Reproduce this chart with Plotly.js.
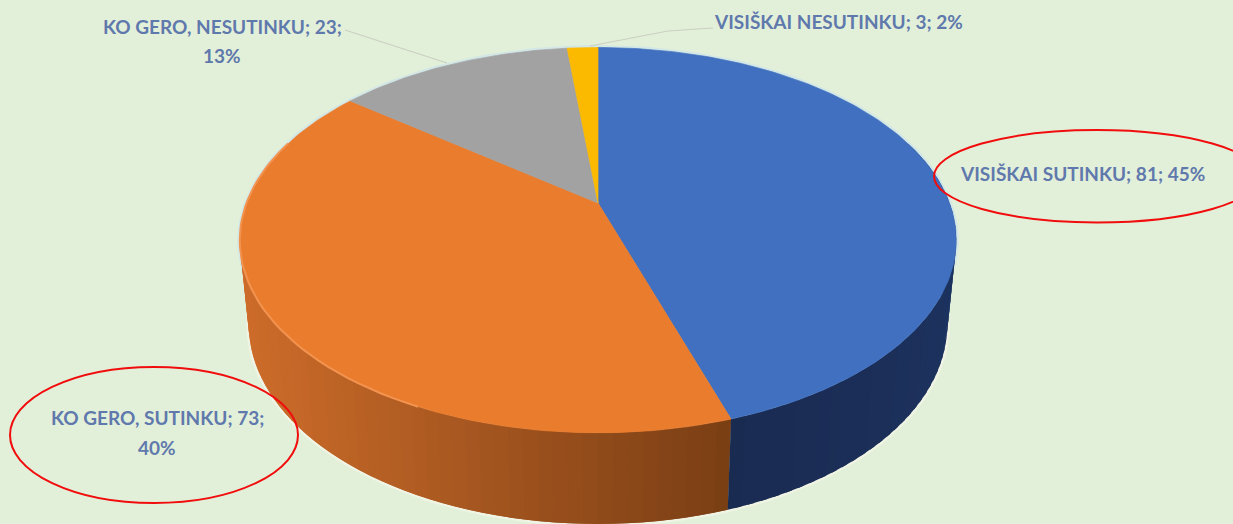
<!DOCTYPE html>
<html><head><meta charset="utf-8">
<script src="https://cdn.plot.ly/plotly-3.0.1.min.js"></script>
<style>html,body{margin:0;padding:0;background:#e3f0d9;overflow:hidden}#c{width:1233px;height:524px}</style>
</head><body><div id="c"></div>
<script>
const categories = ["VISIŠKAI SUTINKU", "KO GERO, SUTINKU", "KO GERO, NESUTINKU", "VISIŠKAI NESUTINKU"];
const values = [81, 73, 23, 3];
const percents = [45, 40, 13, 2];
const topColors = ["#4070bf", "#ea7c2e", "#a2a2a2", "#fbb900"];

// perspective view of a disc: maps a slice angle (deg, clockwise from 12 o'clock) to the page
const CX = 598, CY = 203, A = 351.5, B = 185.5, K = 0.1928;
function topPt(d) {
  const t = d * Math.PI / 180, u = Math.sin(t), v = Math.cos(t), w = 1 + K * v;
  return [CX + A * u / w, CY - B * v / w];
}
function botPt(d) {
  const p = topPt(d);
  return [CX + (p[0] - CX) * 0.975, 325 + (p[1] - 240.5) * 1.035];
}
const total = values.reduce((a, b) => a + b, 0);
const starts = [];
values.reduce((acc, v, i) => { starts[i] = acc; return acc + v; }, 0);
const deg = v => v / total * 360;

function range(a, b, step) {
  const out = [];
  for (let d = a; d < b; d += step) out.push(d);
  out.push(b);
  return out;
}
function mix(c1, c2, f) {
  const m = c1.map((c, i) => Math.round(c + (c2[i] - c) * f));
  return `rgb(${m[0]},${m[1]},${m[2]})`;
}
const traces = [];
function poly(pts, color, name, lw) {
  traces.push({
    type: "scatter", mode: "lines", name: name, hoverinfo: "skip", showlegend: false,
    x: pts.map(p => p[0]), y: pts.map(p => p[1]), fill: "toself", fillcolor: color,
    line: { color: color, width: lw === undefined ? 0.7 : lw }
  });
}
// pale halo round the outer edge
const halo = range(0, 360, 2).map(topPt);
traces.push({ type: "scatter", mode: "lines", hoverinfo: "skip", showlegend: false,
  x: halo.map(p => p[0]), y: halo.map(p => p[1]), line: { color: "#d3e8e6", width: 5 } });
const haloB = range(90, 270, 2).map(botPt);
traces.push({ type: "scatter", mode: "lines", hoverinfo: "skip", showlegend: false,
  x: haloB.map(p => p[0]), y: haloB.map(p => p[1]), line: { color: "#f0f4e4", width: 5 } });

// side wall: each strip overlaps the next one so that no seam shows
const blueEnd = deg(values[0]);
const xEnd = topPt(blueEnd)[0];
const step = 2;
for (let d = 288; d >= blueEnd; d -= step) {
  const x = topPt(d + step / 2)[0];
  const f = Math.min(1, Math.max(0, (xEnd - x) / (xEnd - 240)));
  const a = Math.max(d - step, blueEnd);
  poly([topPt(a), topPt(d + step), botPt(d + step), botPt(a)], mix([122, 62, 20], [205, 108, 42], f), "wall", 0);
}
for (let d = 70; d < blueEnd; d += step) {
  const e = Math.min(d + step + 1, blueEnd);
  poly([topPt(d), topPt(e), botPt(e), botPt(d)], mix([30, 56, 104], [26, 43, 82], (d - 70) / (blueEnd - 70)), "wall", 0);
}

// top face
categories.forEach((c, i) => {
  const a = deg(starts[i]), b = deg(starts[i] + values[i]);
  const pts = [[CX, CY]].concat(range(a, b, 1).map(topPt));
  pts.push([CX, CY]);
  poly(pts, topColors[i], c);
});
// bright rim on the orange slice
const rim = range(205, 290, 2).map(topPt);
traces.push({ type: "scatter", mode: "lines", hoverinfo: "skip", showlegend: false,
  x: rim.map(p => p[0]), y: rim.map(p => p[1]), line: { color: "#f39350", width: 2 } });

const labelPos = [[1082, 173], [157, 417], [222, 26], [838, 21]];
const pctPos = [null, [157, 447], [222, 55], null];
const labelFont = { family: "Lato, 'Open Sans', sans-serif", size: 19, color: "#5f79ad", weight: 700 };
const annotations = [];
categories.forEach((c, i) => {
  const text = pctPos[i] ? `${c}; ${values[i]};` : `${c}; ${values[i]}; ${percents[i]}%`;
  annotations.push({ xref: "x", yref: "y", x: labelPos[i][0], y: labelPos[i][1], showarrow: false, text: text, font: labelFont });
  if (pctPos[i]) annotations.push({ xref: "x", yref: "y", x: pctPos[i][0], y: pctPos[i][1], showarrow: false, text: `${percents[i]}%`, font: labelFont });
});
const shapes = [
  { type: "path", xref: "x", yref: "y", path: "M345,30 L447,63", line: { color: "#c9cfc2", width: 1.2 } },
  { type: "path", xref: "x", yref: "y", path: "M713,28 L668,31 L590,46", line: { color: "#c9cfc2", width: 1.2 } },
  { type: "circle", xref: "x", yref: "y", x0: 934, x1: 1260, y0: 130, y1: 222.5, line: { color: "#f10d0d", width: 2 } },
  { type: "circle", xref: "x", yref: "y", x0: 10, x1: 298, y0: 367, y1: 503, line: { color: "#f10d0d", width: 2 } }
];
Plotly.newPlot("c", traces, {
  width: 1233, height: 524, margin: { l: 0, r: 0, t: 0, b: 0 },
  paper_bgcolor: "#e3f0d9", plot_bgcolor: "#e3f0d9", showlegend: false,
  xaxis: { range: [0, 1233], visible: false, fixedrange: true },
  yaxis: { range: [524, 0], visible: false, fixedrange: true },
  annotations: annotations, shapes: shapes
}, { displayModeBar: false, staticPlot: true });
</script></body></html>
